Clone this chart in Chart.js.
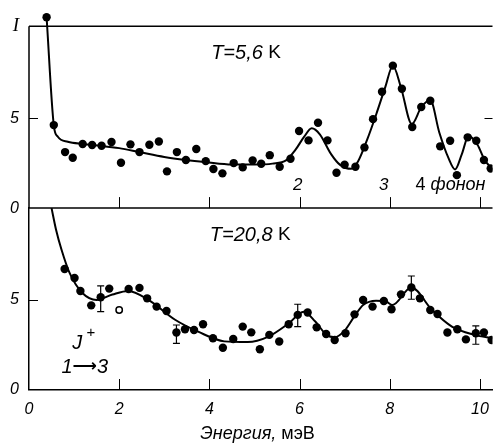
<!DOCTYPE html>
<html lang="ru">
<head>
<meta charset="UTF-8">
<title>Спектр J+ — Энергия, мэВ</title>
<script src="https://cdn.jsdelivr.net/npm/chart.js"></script>
<style>
  html, body { margin: 0; padding: 0; background: #fff; }
  #chart { display: block; }
</style>
</head>
<body>
<canvas id="chart" width="498" height="445"></canvas>
<script>
// верхняя панель, T = 5,6 K: точки
const lowX = [0.39, 0.55, 0.80, 0.97, 1.19, 1.40, 1.61, 1.83, 2.04, 2.25, 2.45, 2.67, 2.88, 3.06,
  3.28, 3.48, 3.71, 3.92, 4.09, 4.29, 4.54, 4.74, 4.96, 5.15, 5.34, 5.56, 5.80, 5.99, 6.20, 6.41,
  6.62, 6.82, 7.00, 7.24, 7.44, 7.63, 7.83, 8.07, 8.27, 8.50, 8.70, 8.90, 9.12, 9.34, 9.49, 9.73,
  9.92, 10.09, 10.24];
const lowY = [10.6, 4.61, 3.11, 2.80, 3.56, 3.50, 3.46, 3.67, 2.52, 3.54, 3.11, 3.52, 3.70, 2.04,
  3.11, 2.67, 3.28, 2.61, 2.17, 1.93, 2.50, 2.26, 2.65, 2.46, 2.94, 2.30, 2.74, 4.28, 3.76, 4.74,
  3.76, 1.96, 2.41, 2.30, 3.37, 4.94, 6.46, 7.91, 6.63, 4.50, 5.61, 5.96, 3.43, 3.74, 1.83, 3.93,
  3.74, 2.67, 2.20];
// верхняя панель: сглаженная кривая
const lowFitX = [0.39, 0.55, 0.64, 0.86, 1.2, 1.6, 2.0, 2.45, 3.0, 3.48, 3.92, 4.5, 5.0, 5.4, 5.7,
  5.9, 6.1, 6.27, 6.45, 6.7, 6.9, 7.15, 7.3, 7.5, 7.7, 7.9, 8.07, 8.25, 8.49, 8.7, 8.9, 9.1, 9.3,
  9.45, 9.6, 9.75, 9.95, 10.1, 10.3];
const lowFitY = [10.6, 4.6, 3.96, 3.68, 3.56, 3.46, 3.33, 3.11, 2.84, 2.67, 2.55, 2.42, 2.42, 2.47,
  2.65, 3.2, 3.95, 4.43, 4.1, 3.0, 2.4, 2.18, 2.6, 3.8, 5.2, 6.7, 7.9, 6.7, 4.67, 5.6, 6.0, 4.2,
  2.8, 2.15, 3.0, 4.0, 3.5, 2.7, 2.1];

// нижняя панель, T = 20,8 K: точки
const highX = [0.79, 1.01, 1.14, 1.38, 1.59, 1.78, 2.21, 2.45, 2.62, 2.83, 3.05, 3.27, 3.46, 3.66,
  3.86, 4.08, 4.30, 4.53, 4.74, 4.93, 5.12, 5.33, 5.55, 5.76, 5.96, 6.18, 6.38, 6.59, 6.78, 7.02,
  7.22, 7.41, 7.62, 7.87, 8.04, 8.25, 8.48, 8.67, 8.90, 9.06, 9.28, 9.50, 9.69, 9.91, 10.09, 10.26];
const highY = [6.72, 6.22, 5.50, 4.70, 5.15, 5.63, 5.61, 5.67, 5.09, 4.63, 4.39, 3.19, 3.37, 3.33,
  3.65, 2.87, 2.35, 2.83, 3.52, 3.20, 2.26, 3.06, 2.69, 3.65, 4.17, 4.30, 3.48, 3.11, 2.78, 3.15,
  4.20, 5.00, 4.63, 4.94, 4.48, 5.31, 5.69, 5.09, 4.44, 4.22, 3.19, 3.37, 2.81, 3.15, 3.19, 2.78];
// нижняя панель: сглаженная кривая
const highFitX = [0.5, 0.6, 0.72, 0.9, 1.19, 1.5, 1.85, 2.2, 2.65, 3.24, 3.75, 4.33, 4.85, 5.3,
  5.76, 6.09, 6.35, 6.6, 6.78, 7.0, 7.22, 7.41, 7.7, 7.92, 8.06, 8.48, 8.94, 9.38, 9.89, 10.28];
const highFitY = [10.1, 8.9, 7.8, 6.5, 5.37, 5.0, 5.3, 5.5, 5.0, 3.9, 3.24, 2.7, 2.66, 2.95,
  3.7, 4.35, 3.8, 3.06, 2.93, 3.3, 4.1, 4.72, 4.96, 4.91, 4.72, 5.69, 4.44, 3.52, 3.06, 2.87];
// пустой кружок
const openX = [2.0];
const openY = [4.44];

// погрешности
const errX = [1.59, 3.27, 5.96, 8.48, 9.91];
const errLo = [4.35, 2.59, 3.52, 5.04, 2.54];
const errHi = [5.78, 3.61, 4.76, 6.33, 3.56];

const xTicks = [0, 2, 4, 6, 8, 10];
const yTopTicks = [0, 5, 10.1];
const yBotTicks = [0, 5];
const yFrameTop = 10.1;   // верхняя граница рамки
const yTopMax = 11.0;     // запас сверху для первой точки

const pts = (xs, ys) => xs.map((x, i) => ({ x: x, y: ys[i] }));

const SANS = '"Liberation Sans", "DejaVu Sans", sans-serif';
const ink = '#000';

function runs(ctx, x, y, parts) {
  // текст из кусков с разными шрифтами, x — левый край, y — середина
  ctx.textBaseline = 'middle';
  ctx.textAlign = 'left';
  for (const [txt, font, dy] of parts) {
    ctx.font = font;
    ctx.fillText(txt, x, y + (dy || 0));
    x += ctx.measureText(txt).width;
  }
}

const frame = {
  id: 'frame',
  afterDraw(chart) {
    const ctx = chart.ctx;
    const { x, yTop, yBot } = chart.scales;
    const area = chart.chartArea;
    const top = yTop.getPixelForValue(yFrameTop);
    ctx.save();
    ctx.strokeStyle = ink;
    ctx.fillStyle = ink;

    // рамки панелей
    ctx.lineWidth = 1.5;
    ctx.beginPath();
    ctx.moveTo(area.left, top);
    ctx.lineTo(area.right, top);
    ctx.stroke();
    ctx.beginPath();
    ctx.moveTo(area.left, yTop.bottom);
    ctx.lineTo(area.right, yTop.bottom);
    ctx.stroke();
    ctx.beginPath();
    ctx.moveTo(area.left, top);
    ctx.lineTo(area.left, yTop.bottom);
    ctx.stroke();

    // засечки внутрь
    ctx.lineWidth = 1;
    ctx.beginPath();
    xTicks.slice(1).forEach(v => {
      const px = Math.round(x.getPixelForValue(v)) + 0.5;
      ctx.moveTo(px, yTop.bottom); ctx.lineTo(px, yTop.bottom - 11);
      ctx.moveTo(px, yBot.bottom); ctx.lineTo(px, yBot.bottom - 11);
    });
    [yTop, yBot].forEach(s => {
      const py = Math.round(s.getPixelForValue(5)) + 0.5;
      ctx.moveTo(area.left, py); ctx.lineTo(area.left + 9, py);
    });
    const pr = Math.round(yTop.getPixelForValue(5)) + 0.5;
    ctx.moveTo(area.right - 8, pr); ctx.lineTo(area.right, pr);
    ctx.stroke();

    // погрешности
    ctx.lineWidth = 1.2;
    ctx.beginPath();
    errX.forEach((v, i) => {
      const px = x.getPixelForValue(v);
      const lo = yBot.getPixelForValue(errLo[i]);
      const hi = yBot.getPixelForValue(errHi[i]);
      ctx.moveTo(px, lo); ctx.lineTo(px, hi);
      ctx.moveTo(px - 3.5, lo); ctx.lineTo(px + 3.5, lo);
      ctx.moveTo(px - 3.5, hi); ctx.lineTo(px + 3.5, hi);
    });
    ctx.stroke();

    // подписи
    const it = s => 'italic ' + s + 'px ' + SANS;
    const up = s => s + 'px ' + SANS;
    runs(ctx, x.getPixelForValue(4.04), yTop.getPixelForValue(8.61),
      [['T=5,6', it(20)], [' K', up(19)]]);
    runs(ctx, x.getPixelForValue(4.01), yBot.getPixelForValue(8.61),
      [['T=20,8', it(20)], [' K', up(19)]]);
    ctx.textAlign = 'center';
    ctx.font = it(17);
    ctx.fillText('2', x.getPixelForValue(5.96), yTop.getPixelForValue(1.28));
    ctx.fillText('3', x.getPixelForValue(7.87), yTop.getPixelForValue(1.28));
    runs(ctx, x.getPixelForValue(8.57), yTop.getPixelForValue(1.28),
      [['4 ', up(18)], ['фонон', it(18)]]);
    runs(ctx, x.getPixelForValue(0.96), yBot.getPixelForValue(2.61),
      [['J', it(20)], [' +', up(15), -10]]);
    runs(ctx, x.getPixelForValue(0.72), yBot.getPixelForValue(1.28),
      [['1', it(20)], ['⟶', 'bold 17px "DejaVu Sans", sans-serif'], ['3', it(20)]]);
    runs(ctx, x.getPixelForValue(3.8), x.top + 44,
      [['Энергия, ', it(18)], ['мэВ', up(18)]]);
    ctx.restore();
  }
};

const yAxis = (ticks, max, weight, border) => ({
  type: 'linear',
  position: 'left',
  stack: 'panels',
  stackWeight: max,
  weight: weight,
  min: 0,
  max: max,
  grid: { display: false, drawTicks: false },
  border: { display: border, color: ink, width: 1.5 },
  afterBuildTicks: s => { s.ticks = ticks.map(v => ({ value: v })); },
  afterFit: s => { s.width = 29; s.paddingTop = 0; s.paddingBottom = 0; },
  ticks: {
    color: ink,
    padding: 10,
    font: c => (c.tick && c.tick.value === yFrameTop)
      ? { family: '"Liberation Serif", serif', size: 19, style: 'italic' }
      : { family: SANS, size: 16, style: 'italic' },
    callback: v => v === yFrameTop ? 'I' : String(v)
  }
});

new Chart(document.getElementById('chart').getContext('2d'), {
  type: 'scatter',
  data: {
    datasets: [
      { data: pts(lowX, lowY), yAxisID: 'yTop', pointRadius: 4.2, pointBackgroundColor: ink,
        pointBorderWidth: 0 },
      { type: 'line', data: pts(lowFitX, lowFitY), yAxisID: 'yTop', borderColor: ink, borderWidth: 2,
        pointRadius: 0, fill: false, cubicInterpolationMode: 'monotone' },
      { data: pts(highX, highY), yAxisID: 'yBot', pointRadius: 4.2, pointBackgroundColor: ink,
        pointBorderWidth: 0 },
      { type: 'line', data: pts(highFitX, highFitY), yAxisID: 'yBot', borderColor: ink, borderWidth: 2,
        pointRadius: 0, fill: false, cubicInterpolationMode: 'monotone' },
      { data: pts(openX, openY), yAxisID: 'yBot', pointRadius: 3.2, pointBackgroundColor: '#fff',
        pointBorderColor: ink, pointBorderWidth: 1.5 }
    ]
  },
  options: {
    responsive: false,
    animation: false,
    events: [],
    layout: { padding: { top: 10, left: 0, right: 0, bottom: 0 } },
    plugins: { legend: { display: false }, tooltip: { enabled: false } },
    scales: {
      x: {
        type: 'linear',
        min: 0,
        max: 10.28,
        grid: { display: false, drawTicks: false },
        border: { display: true, color: ink, width: 1.5 },
        afterBuildTicks: s => { s.ticks = xTicks.map(v => ({ value: v })); },
        afterFit: s => { s.height = 55; s.paddingLeft = 0; s.paddingRight = 0; },
        ticks: {
          color: ink,
          padding: 10,
          maxRotation: 0,
          font: { family: SANS, size: 16, style: 'italic' },
          callback: v => String(v)
        }
      },
      yTop: yAxis(yTopTicks, yTopMax, 1, false),
      yBot: yAxis(yBotTicks, yFrameTop, 0, true)
    }
  },
  plugins: [frame]
});
</script>
</body>
</html>
